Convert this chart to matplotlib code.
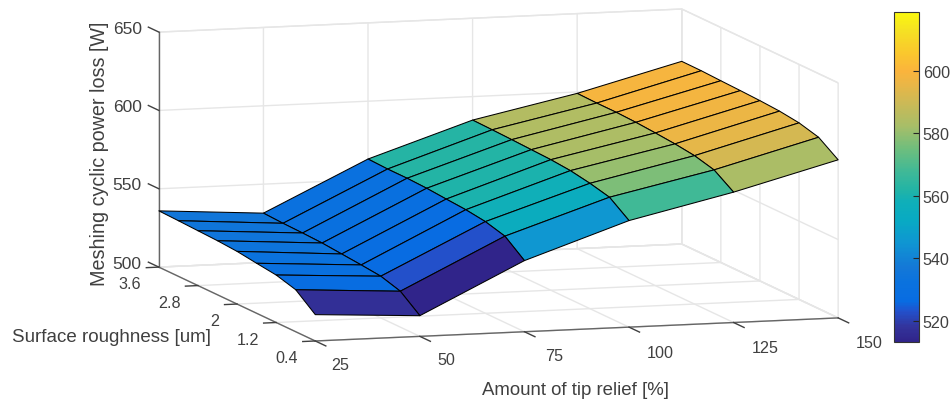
import numpy as np
import matplotlib
matplotlib.use("Agg")
import matplotlib.pyplot as plt
from matplotlib.colors import LinearSegmentedColormap, Normalize
from matplotlib.cm import ScalarMappable
from matplotlib.transforms import ScaledTranslation

plt.rcParams['font.family'] = ['Liberation Sans', 'DejaVu Sans']

W, H = 951, 402
TXT = (0.25, 0.25, 0.25)

# Data: columns are tip relief, values run from roughness 0.4 up to 3.6
tip_relief = [25, 50, 75, 100, 125, 150]
roughness = [0.4, 0.8, 1.2, 1.6, 2.0, 2.4, 2.8, 3.2, 3.6]
loss_25 = [516.8, 526.8, 530.3, 531.9, 533.6, 534.5, 535.0, 535.5, 535.9]
loss_50 = [513.2, 522.9, 526.6, 527.9, 529.0, 530.1, 530.6, 530.9, 531.5]
loss_75 = [545.4, 555.1, 558.5, 560.2, 561.1, 562.1, 562.6, 562.6, 563.1]
loss_100 = [568.0, 577.0, 580.0, 582.2, 583.3, 583.8, 584.3, 584.7, 585.0]
loss_125 = [583.2, 591.5, 594.7, 596.3, 597.4, 598.3, 598.8, 598.8, 599.1]
loss_150 = [600.9, 609.4, 612.7, 614.3, 615.1, 615.6, 616.0, 616.5, 616.6]

x_ticks = [25, 50, 75, 100, 125, 150]
y_ticks = [0.4, 1.2, 2, 2.8, 3.6]
y_tick_labels = ['0.4', '1.2', '2', '2.8', '3.6']
z_ticks = [500, 550, 600, 650]
bar_ticks = [520, 540, 560, 580, 600]
bar_min, bar_max = 513.2, 618.7

cmap_levels = [513.2, 518, 522.9, 526, 532, 537, 545, 552, 558, 562, 568, 575, 582, 590, 596, 600, 606, 613, 618.7]
cmap_colors = ['#30248a', '#33349c', '#2251cc', '#086ce2', '#0a72de', '#1478d7', '#0f96d2', '#08aac3', '#0fafb9',
               '#23b4a5', '#41b996', '#6ebe7d', '#a5be69', '#cdb955', '#ebb646', '#fab43c', '#fac82d', '#f5e123', '#faf80f']
pos = [(v - bar_min) / (bar_max - bar_min) for v in cmap_levels]
cmap = LinearSegmentedColormap.from_list('parula_like', list(zip(pos, cmap_colors)), N=256)
norm = Normalize(bar_min, bar_max)

X, Y = np.meshgrid(tip_relief, roughness)
Z = np.column_stack([loss_25, loss_50, loss_75, loss_100, loss_125, loss_150])

fig = plt.figure(figsize=(W / 100, H / 100), dpi=100, facecolor='white')
S = 777.6
ax = fig.add_axes([99.2 / W, -173.3 / H, S / W, S / H], projection='3d', proj_type='ortho')
ax.view_init(elev=8.3, azim=-107)
ax.set_box_aspect((546.7, 535, 237.5))

surf = ax.plot_surface(X, Y, Z, rstride=1, cstride=1, facecolors=cmap(norm(Z)), shade=False, antialiased=True)
surf.set_edgecolor('black')
surf.set_linewidth(0.75)

ax.set_xlim(25, 150, view_margin=0)
ax.set_ylim(0.4, 3.6, view_margin=0)
ax.set_zlim(500, 650, view_margin=0)
ax.set_xticks(x_ticks)
ax.set_yticks(y_ticks)
ax.set_yticklabels(y_tick_labels)
ax.set_zticks(z_ticks)
ax.zaxis._get_tickdir = lambda pos: 1   # z ticks run along the roughness direction

for axis, tick_out, tick_in in ((ax.xaxis, 0, 0.84), (ax.yaxis, 0, 0.3), (ax.zaxis, 0.84, 0)):
    axis.set_pane_color((1, 1, 1, 1))
    axis.pane.set_edgecolor((0.9, 0.9, 0.9))
    axis.pane.set_linewidth(1.0)
    axis.line.set_color((0.4, 0.4, 0.4))
    axis.line.set_linewidth(1.0)
    axis._axinfo['grid']['color'] = (0.9, 0.9, 0.9)
    axis._axinfo['grid']['linewidth'] = 1.0
    axis._axinfo['tick']['inward_factor'] = tick_in
    axis._axinfo['tick']['outward_factor'] = tick_out
    axis._axinfo['tick']['linewidth'] = {True: 1.0, False: 0.5}
    axis._axinfo['tick']['color'] = (0.4, 0.4, 0.4)
ax.tick_params(colors=TXT, pad=0)
ax.xaxis.set_tick_params(labelsize=11.6)
ax.yaxis.set_tick_params(labelsize=11.6)
ax.zaxis.set_tick_params(labelsize=12.5)


def shift_tick_labels(axis, offsets, ha=None):
    original = axis.get_major_ticks

    def wrapped(numticks=None):
        ticks = original(numticks)
        for tick, (dx, dy) in zip(ticks, offsets):
            tick.label1.set_transform(ax.transData + ScaledTranslation(dx / 100, dy / 100, fig.dpi_scale_trans))
            if ha:
                tick.label1.set_ha(ha)
        return ticks
    axis.get_major_ticks = wrapped


def shift_label(axis, dx, dy):
    # one pixel in the 3D axes' view coordinates (0.185 view units span the square axes)
    k = 0.185 / S
    original = axis.label.set_position
    axis.label.set_position = lambda xy: original((xy[0] + dx * k, xy[1] + dy * k))


shift_tick_labels(ax.xaxis, [(21, -8), (22, -7), (25, -8), (27, -9), (27, -9), (27, -9)])
shift_tick_labels(ax.yaxis, [(-3, -2)] * 5, ha='right')
shift_tick_labels(ax.zaxis, [(-13, 10)] * 4)

ax.xaxis.set_rotate_label(False)
ax.yaxis.set_rotate_label(False)
ax.zaxis.set_rotate_label(False)
ax.set_xlabel('Amount of tip relief [%]', fontsize=13.45, color=TXT, rotation=0, labelpad=10)
ax.set_ylabel('Surface roughness [um]', fontsize=13.5, color=TXT, rotation=0, labelpad=10)
ax.set_zlabel('Meshing cyclic power loss [W]', fontsize=14.2, color=TXT, rotation=90, labelpad=10)
shift_label(ax.xaxis, -18, -27)
shift_label(ax.yaxis, -69.5, -5)
shift_label(ax.zaxis, 13, -9)

cax = fig.add_axes([894 / W, (H - 343) / H, 24.7 / W, 329.7 / H])
cb = fig.colorbar(ScalarMappable(norm=norm, cmap=cmap), cax=cax)
cb.set_ticks(bar_ticks)
cb.ax.tick_params(direction='in', length=4, width=0.8, color=(0.15, 0.15, 0.15), labelsize=11.6, labelcolor=TXT, pad=3)
cb.outline.set_edgecolor((0.2, 0.2, 0.2))
cb.outline.set_linewidth(0.8)

fig.savefig('out.png', dpi=100, facecolor='white')
